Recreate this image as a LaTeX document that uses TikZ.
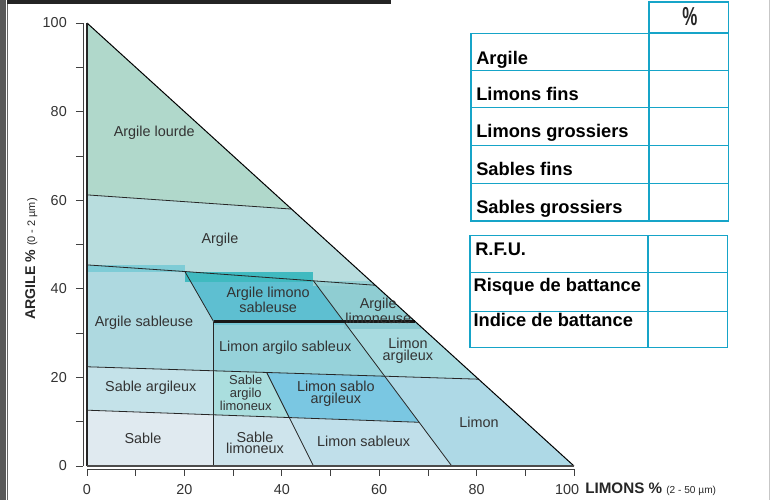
\documentclass[tikz,border=0pt]{standalone}
\usepackage{fontspec}
\setmainfont{Liberation Sans}

\definecolor{lourde}{RGB}{176,216,203}
\definecolor{argile}{RGB}{184,221,222}
\definecolor{argsab}{RGB}{174,217,224}
\definecolor{arglimsab}{RGB}{94,191,209}
\definecolor{arglim}{RGB}{143,205,210}
\definecolor{limargsab}{RGB}{150,210,218}
\definecolor{limarg}{RGB}{168,219,224}
\definecolor{sabarg}{RGB}{196,226,233}
\definecolor{sabarglim}{RGB}{170,222,222}
\definecolor{limsabarg}{RGB}{122,199,226}
\definecolor{limon}{RGB}{174,217,230}
\definecolor{sable}{RGB}{224,234,240}
\definecolor{sablim}{RGB}{206,228,236}
\definecolor{limsab}{RGB}{192,223,234}
\definecolor{grille}{RGB}{22,164,200}
% bands printed off register
\definecolor{bandA}{RGB}{126,204,214}
\definecolor{bandB}{RGB}{64,186,192}
\definecolor{bandC}{RGB}{150,208,212}
\definecolor{bandD}{RGB}{138,201,210}
\definecolor{bandE}{RGB}{120,200,214}

\tikzset{
  zone/.style={font=\fontsize{10.8}{8.8}\selectfont, text=black!80, align=center, inner sep=0pt},
  cut/.style={draw=black!85, line width=0.6pt},
  cell/.style={draw=grille, line width=1.1pt},
  entry/.style={font=\bfseries\fontsize{13.7}{16}\selectfont, anchor=base west, inner sep=0pt},
  graduation/.style={font=\fontsize{10.8}{13}\selectfont, text=black!80, inner sep=0pt}
}

\begin{document}
\begin{tikzpicture}[x=0.75pt,y=-0.75pt]
	\useasboundingbox (0,0) rectangle (770,500);

	% page frame
	\fill[black!65] (0,0) rectangle (6,500);
	\draw[black!60, line width=0.8pt] (7.5,0) -- (7.5,500);
	\fill[black!86] (7,0) rectangle (391,4);
	\draw[black!22] (769.5,0) -- (769.5,500);

	\begin{scope}[shift={(87,466)}, x=3.6525pt, y=3.3225pt]
		\fill[lourde] (0,100) -- (0,61.2) -- (42,58) -- cycle;
		\fill[argile] (0,61.2) -- (42,58) -- (59.2,40.8) -- (46.5,41.8) -- (20.1,43.9) -- (0,45.4) -- cycle;
		\fill[argsab] (0,45.4) -- (20.1,43.9) -- (26,32.6) -- (26,21.49) -- (0,22.4) -- cycle;
		\fill[arglimsab] (20.1,43.9) -- (46.5,41.8) -- (52.75,32.6) -- (26,32.6) -- cycle;
		\fill[arglim] (46.5,41.8) -- (59.2,40.8) -- (67.4,32.6) -- (52.75,32.6) -- cycle;
		\fill[limargsab] (26,32.6) -- (52.75,32.6) -- (61.1,20.26) -- (26,21.49) -- cycle;
		\fill[limarg] (52.75,32.6) -- (67.4,32.6) -- (80.4,19.6) -- (61.1,20.26) -- cycle;
		\fill[sabarg] (0,22.4) -- (26,21.49) -- (26,11.56) -- (0,12.6) -- cycle;
		\fill[sabarglim] (26,21.49) -- (36.9,21.1) -- (41.5,10.94) -- (26,11.56) -- cycle;
		\fill[limsabarg] (36.9,21.1) -- (61.1,20.26) -- (68.2,9.87) -- (41.5,10.94) -- cycle;
		\fill[limon] (61.1,20.26) -- (80.4,19.6) -- (100,0) -- (74.9,0) -- cycle;
		\fill[sable] (0,12.6) -- (26,11.56) -- (26,0) -- (0,0) -- cycle;
		\fill[sablim] (26,11.56) -- (41.5,10.94) -- (46.5,0) -- (26,0) -- cycle;
		\fill[limsab] (41.5,10.94) -- (68.2,9.87) -- (74.9,0) -- (46.5,0) -- cycle;

		\begin{scope}
			\clip (0,0) -- (0,100) -- (100,0) -- cycle;
			\fill[bandA] (0,43.8) rectangle (20.1,45.4);
			\fill[bandB] (20.1,41.6) rectangle (46.5,43.9);
			\fill[bandC] (46.5,40.6) rectangle (59.4,41.8);
			\fill[bandD] (52.75,30.9) rectangle (70,32.6);
			\fill[bandE] (26,31.9) rectangle (52.75,32.6);
		\end{scope}

		% boundaries
		\draw[cut] (0,61.2) -- (42,58);
		\draw[cut] (0,45.4) -- (20.1,43.9) -- (46.5,41.8) -- (59.2,40.8);
		\draw[cut] (20.1,43.9) -- (26,32.6);
		\draw[cut] (46.5,41.8) -- (74.9,0);
		\draw[cut] (0,22.4) -- (80.4,19.6);
		\draw[cut] (26,32.6) -- (26,0);
		\draw[cut] (36.9,21.1) -- (46.5,0);
		\draw[cut] (0,12.6) -- (68.2,9.87);
		\draw[black!90, line width=2.2pt] (26,32.6) -- (67.4,32.6);

		\draw[black, line width=0.75pt] (0,100) -- (100,0);
		\draw[black!85, line width=1pt] (0,0) -- (0,100);
		\draw[black!70, line width=1.2pt] (0,0) -- (100,0);

		% names of the textures
		\node[zone] (lourde) at (13.8,75.2) {Argile lourde};
		\node[zone] (argile) at (27.3,51) {Argile};
		\node[zone] (argsab) at (11.7,32.3) {Argile sableuse};
		\node[zone] (arglimsab) at (37.2,37.5) {Argile limono\\sableuse};
		\node[zone] (arglim) at (59.8,35) {Argile\\limoneuse};
		\node[zone] (limargsab) at (40.7,26.6) {Limon argilo sableux};
		\node[zone] (limarg) at (65.9,26) {Limon\\argileux};
		\node[zone] (sabarg) at (13.1,17.6) {Sable argileux};
		\node[zone, font=\fontsize{9.7}{9.5}\selectfont] (sabarglim) at (32.6,16.5) {Sable\\argilo\\limoneux};
		\node[zone] (limsabarg) at (51.1,16.3) {Limon sablo\\argileux};
		\node[zone] (limon) at (80.5,9.9) {Limon};
		\node[zone] (sable) at (11.5,6.3) {Sable};
		\node[zone] (sablim) at (34.5,5.2) {Sable\\limoneux};
		\node[zone] (limsab) at (56.8,5.6) {Limon sableux};

		% axes
		\draw[black!75, line width=0.6pt] (-0.72,0) -- (-0.72,100);
		\foreach \k in {0,10,...,100}
			\draw[black!75, line width=0.6pt] (-2.26,\k) -- (-0.72,\k);
		\foreach \k in {0,20,...,100}
			\node[graduation, anchor=east] (ya\k) at (-4.1,\k) {\k};
		\draw[black!75, line width=0.6pt] (0,-0.68) -- (100,-0.68);
		\foreach \k in {0,10,...,100}
			\draw[black!75, line width=0.6pt] (\k,-0.68) -- (\k,-2.26);
		\foreach \k in {0,20,...,80}
			\node[graduation] (xa\k) at (\k,-5.2) {\k};
		\node[graduation] (xa100) at (98.6,-5.2) {100};
	\end{scope}

	\node[anchor=base west, inner sep=0pt, text=black!85] (limons) at (585,493.3)
		{\bfseries\fontsize{11.4}{13}\selectfont LIMONS \%\ \mdseries\fontsize{7.6}{9}\selectfont(2 - 50 µm)};
	\node[anchor=base west, rotate=90, inner sep=0pt, text=black!85] (argiles) at (35,320)
		{\bfseries\fontsize{10.6}{12}\selectfont ARGILE \%\ \mdseries\fontsize{8.2}{9}\selectfont(0 - 2 µm)};

	% table of the fractions
	\draw[cell] (649,2) rectangle (728.3,33.3);
	\draw[cell] (471,33.3) rectangle (728.3,221);
	\draw[cell, line width=1.6pt] (649,33.3) -- (728.3,33.3);
	\foreach \y in {70.7,107.7,145.3,183.3}
		\draw[cell] (471,\y) -- (728.3,\y);
	\draw[cell, line width=1.6pt] (649,33.3) -- (649,221);
	\node[font=\bfseries\fontsize{19.5}{20}\selectfont, xscale=0.65, inner sep=0pt, text=black!85] (pct) at (690,16.5) {\%};
	\node[entry] (tArgile) at (476,64) {Argile};
	\node[entry] (tLimf) at (476,100.7) {Limons fins};
	\node[entry] (tLimg) at (476,137.3) {Limons grossiers};
	\node[entry] (tSabf) at (476,175) {Sables fins};
	\node[entry] (tSabg) at (476,213.3) {Sables grossiers};

	\draw[cell] (470,235.7) rectangle (727.3,347.3);
	\draw[cell] (470,272.7) -- (727.3,272.7);
	\draw[cell] (470,311.3) -- (727.3,311.3);
	\draw[cell, line width=1.6pt] (648.3,235.7) -- (648.3,347.3);
	\node[entry] (tRfu) at (475,255.7) {R.F.U.};
	\node[entry] (tRisque) at (473.3,291.7) {Risque de battance};
	\node[entry] (tIndice) at (473.3,326) {Indice de battance};
\end{tikzpicture}
\end{document}
